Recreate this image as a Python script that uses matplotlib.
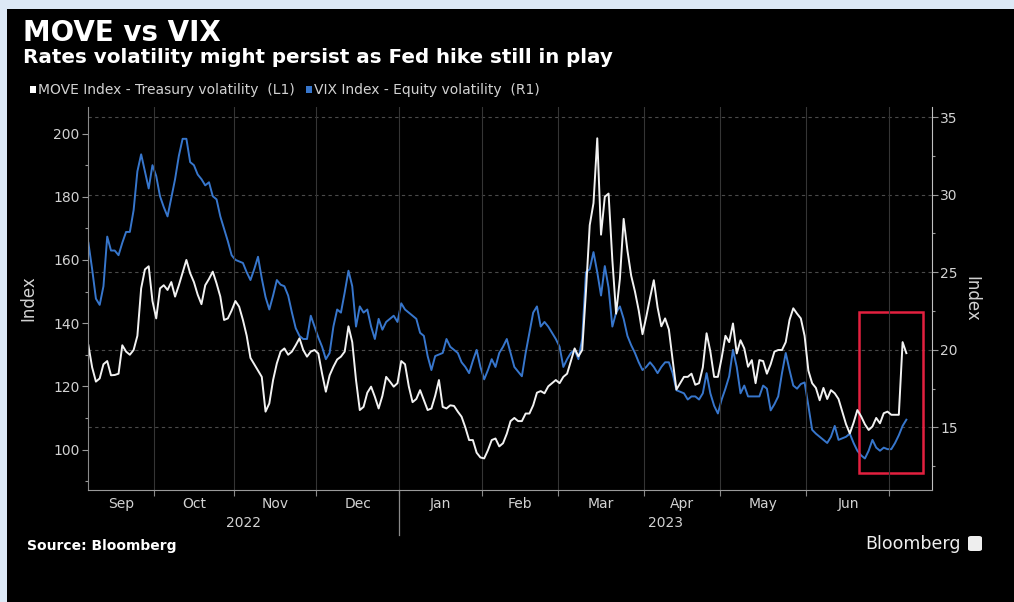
"""
MOVE vs VIX - Bloomberg style dark chart, twin y axes on a business-day x axis
"""
import matplotlib
matplotlib.use("Agg")
import matplotlib.pyplot as plt
import matplotlib.transforms as mtransforms
from matplotlib.patches import Rectangle, FancyBboxPatch
from matplotlib.ticker import MultipleLocator
import numpy as np
import pandas as pd

# daily (weekday) closes, starting 2022-09-07
start_date = "2022-09-07"
move = [
    133, 126, 121.5, 122.5, 127, 128, 123.5, 123.6, 124, 133,
    131, 130, 131.5, 136, 151, 157, 158, 147, 141.5, 151,
    152, 150.5, 153, 148.4, 152, 156, 160, 155.8, 153, 149,
    146, 152, 154, 156.3, 152.6, 148.4, 141, 141.5, 144, 147,
    145.2, 141, 136, 129, 127, 125, 123, 112, 114.6, 122,
    127.3, 131, 132, 130, 131, 133, 135.2, 131.5, 129.4, 131,
    131.5, 130.4, 124, 118.3, 123.5, 126.2, 128.5, 129.4, 131, 139,
    134, 122, 112.5, 113.5, 118, 119.9, 116.7, 113, 117, 123,
    121.5, 119.9, 121, 128, 127, 120, 115, 116, 118.8, 115.6,
    112.5, 113, 117, 122, 113.5, 113, 114, 113.8, 112, 110.4,
    107, 103, 103, 99, 97.5, 97.2, 99.8, 103, 103.5, 101,
    102, 105, 109, 110, 109, 109, 111.4, 111.4, 114, 118,
    118.5, 117.8, 120, 121, 122, 121, 123, 124, 128, 132,
    129.5, 131.5, 150, 171, 178, 198.5, 168, 180, 181, 160,
    143, 154, 173, 163, 155, 150, 144, 136.5, 142, 148,
    153.6, 145, 139, 141.5, 138, 128.3, 119, 121, 123, 123,
    124, 120.5, 121, 126, 136.8, 131, 123, 123, 129, 136,
    134, 139.9, 130.4, 134.6, 132, 126.2, 128.3, 121, 128.3, 128,
    124, 127, 131, 131.5, 131.5, 134, 141, 144.7, 143, 141.5,
    136, 125, 121, 119.5, 115.6, 119.5, 116, 118.8, 117.8, 116,
    112, 108, 105.1, 108.5, 112.5, 110.5, 108, 106.2, 107.3, 110,
    108.3, 111.5, 112, 111, 111, 111, 134, 130.5,
]
vix = [
    26.9, 25.2, 23.3, 22.9, 24.1, 27.3, 26.4, 26.4, 26.1, 26.9,
    27.6, 27.6, 29, 31.5, 32.6, 31.5, 30.4, 31.9, 31.2, 29.9,
    29.2, 28.6, 29.8, 31, 32.5, 33.6, 33.6, 32.1, 31.9, 31.3,
    31, 30.6, 30.8, 29.9, 29.7, 28.6, 27.8, 27, 26.1, 25.8,
    25.7, 25.6, 25, 24.5, 25.2, 26, 24.6, 23.4, 22.6, 23.5,
    24.5, 24.2, 24.1, 23.5, 22.4, 21.4, 20.9, 20.7, 20.7, 22.2,
    21.5, 20.8, 20.2, 19.4, 19.8, 21.5, 22.6, 22.4, 23.7, 25.1,
    24.1, 21.5, 22.8, 22.4, 22.6, 21.5, 20.7, 22, 21.3, 21.8,
    22, 22.2, 21.8, 23, 22.6, 22.4, 22.2, 22, 21.1, 20.9,
    19.6, 18.7, 19.6, 19.7, 19.8, 20.7, 20.2, 20, 19.8, 19.2,
    18.9, 18.5, 19.3, 20, 18.9, 18.1, 18.7, 19.4, 18.9, 19.8,
    20.2, 20.7, 19.8, 18.9, 18.6, 18.3, 19.8, 21.1, 22.4, 22.8,
    21.5, 21.8, 21.5, 21.1, 20.7, 20.2, 18.9, 19.4, 19.8, 20,
    19.4, 20.7, 25, 25.2, 26.3, 25, 23.5, 25.4, 24, 21.5,
    22.4, 22.8, 22, 20.9, 20.3, 19.8, 19.2, 18.7, 18.9, 19.2,
    18.9, 18.5, 18.9, 19.2, 19.2, 18.5, 17.4, 17.3, 17.2, 16.8,
    17, 17, 16.8, 17.2, 18.5, 17.2, 16.4, 15.9, 16.8, 17.5,
    18.3, 20, 18.9, 17.2, 17.7, 17, 17, 17, 17, 17.7,
    17.5, 16.1, 16.5, 17, 18.5, 19.8, 18.7, 17.7, 17.5, 17.8,
    17.9, 16.4, 14.85, 14.6, 14.4, 14.2, 14, 14.4, 15.1, 14.2,
    14.3, 14.4, 14.6, 14, 13.5, 13.2, 13, 13.5, 14.2, 13.7,
    13.5, 13.7, 13.6, 13.6, 14, 14.5, 15.1, 15.5,
]
month_names = ["Sep", "Oct", "Nov", "Dec", "Jan", "Feb", "Mar", "Apr", "May", "Jun"]
years = ["2022", "2023"]

W, H = 1014, 602
BG = "black"
TXT = "#d2d2d2"
MOVE_C = "#f2f2f2"
VIX_C = "#3776cc"

fig = plt.figure(figsize=(W / 100, H / 100), dpi=100, facecolor=BG)

# light blue strips on top / left (screenshot frame)
fig.add_artist(Rectangle((0, 1 - 9 / H), 1, 9 / H, transform=fig.transFigure, color="#dde9f6", lw=0))
fig.add_artist(Rectangle((0, 0), 7 / W, 1, transform=fig.transFigure, color="#dde9f6", lw=0))

L, R, T, B = 88, 932, 107, 490
ax = fig.add_axes([L / W, 1 - B / H, (R - L) / W, (B - T) / H])
ax2 = ax.twinx()
ax.set_zorder(ax2.get_zorder() + 1)  # white line over blue
ax.patch.set_visible(False)
ax2.set_facecolor(BG)

x = np.arange(len(move))
days = pd.bdate_range(start_date, "2023-07-31")
xmax = 223.8

ax2.plot(x, vix, color=VIX_C, lw=1.4)
ax.plot(x, move, color=MOVE_C, lw=1.4)

ax.set_xlim(-0.1, xmax)
ax.set_ylim(87.2, 208.4)
ax2.set_ylim(10.97, 35.65)

# month boundaries / centers
bounds = [i - 0.5 for i in range(1, len(days)) if days[i].month != days[i - 1].month and i - 0.5 < xmax]
edges = [-0.1] + bounds
centers = [(edges[k] + edges[k + 1]) / 2 for k in range(len(month_names))]

ax.set_xticks(bounds)
ax.set_xticklabels([])
ax.set_xticks(centers, minor=True)
ax.set_xticklabels(month_names, minor=True)
ax.tick_params(axis="x", which="major", length=4, color="#8a8a8a", width=0.8)
ax.tick_params(axis="x", which="minor", length=0, pad=5, labelsize=10, labelcolor=TXT)
ax.xaxis.grid(True, which="major", color="#353535", lw=0.8)

# year labels and the Jan separator
trans = mtransforms.blended_transform_factory(ax.transData, ax.transAxes)
jan = [b for b in bounds if days[int(b + 0.5)].month == 1][0]
ax.text((-0.1 + jan) / 2, -0.086, years[0], transform=trans, ha="center", va="center", fontsize=10, color=TXT)
ax.text((jan + xmax) / 2, -0.086, years[1], transform=trans, ha="center", va="center", fontsize=10, color=TXT)
ax.plot([jan, jan], [0, -0.117], transform=trans, color="#8a8a8a", lw=0.9, clip_on=False)

# y axes
ax.yaxis.set_minor_locator(MultipleLocator(10))
ax2.yaxis.set_minor_locator(MultipleLocator(2.5))
ax.set_yticks(range(100, 201, 20))
ax2.set_yticks(range(15, 36, 5))
for a in (ax, ax2):
    a.tick_params(axis="y", which="major", length=4, width=0.8, color="#9a9a9a", labelsize=10, labelcolor=TXT, pad=2)
    a.tick_params(axis="y", which="minor", length=2.5, width=0.8, color="#9a9a9a")
ax2.yaxis.grid(True, which="major", color="#4a4a4a", lw=0.8, ls=(0, (3, 3)))

ax.set_ylabel("Index", color=TXT, fontsize=12)
ax.yaxis.set_label_coords(-0.06, 0.5)
ax2.set_ylabel("Index", color=TXT, fontsize=12, rotation=270, va="center")
ax2.yaxis.set_label_coords(1.047, 0.5)

for a in (ax, ax2):
    a.spines["top"].set_visible(False)
ax.spines["left"].set_color("#8a8a8a")
ax.spines["bottom"].set_color("#9a9a9a")
ax.spines["right"].set_visible(False)
ax2.spines["left"].set_visible(False)
ax2.spines["bottom"].set_visible(False)
ax2.spines["right"].set_color("#c0c0c0")

# red highlight box around the latest jump
ax2.add_patch(Rectangle((204.5, 12.07), 17, 10.34, fill=False, ec="#e3203f", lw=1.8, clip_on=False, zorder=5))

# titles and legend
fig.text(23 / W, 1 - 41 / H, "MOVE vs VIX", fontsize=20, weight="bold", color="white", va="baseline")
fig.text(23 / W, 1 - 63 / H, "Rates volatility might persist as Fed hike still in play",
         fontsize=14.3, weight="bold", color="white", va="baseline")
fig.add_artist(Rectangle((30 / W, 1 - 93 / H), 6 / W, 7 / H, transform=fig.transFigure, color="white", lw=0))
fig.text(38 / W, 1 - 94 / H, "MOVE Index - Treasury volatility  (L1)", fontsize=10, color=TXT, va="baseline")
fig.add_artist(Rectangle((306 / W, 1 - 93 / H), 6 / W, 7 / H, transform=fig.transFigure, color=VIX_C, lw=0))
fig.text(314 / W, 1 - 94 / H, "VIX Index - Equity volatility  (R1)", fontsize=10, color=TXT, va="baseline")

# footer
fig.text(27 / W, 1 - 550 / H, "Source: Bloomberg", fontsize=10, weight="bold", color="white", va="baseline")
fig.text(865 / W, 1 - 549 / H, "Bloomberg", fontsize=12.5, color="#eeeeee", va="baseline")
fig.add_artist(FancyBboxPatch((968 / W, 1 - 551 / H), 14 / W, 15 / H, boxstyle="round,pad=0,rounding_size=0.003",
                              transform=fig.transFigure, color="#eeeeee", lw=0))

fig.savefig("out.png", dpi=100, facecolor=BG)
